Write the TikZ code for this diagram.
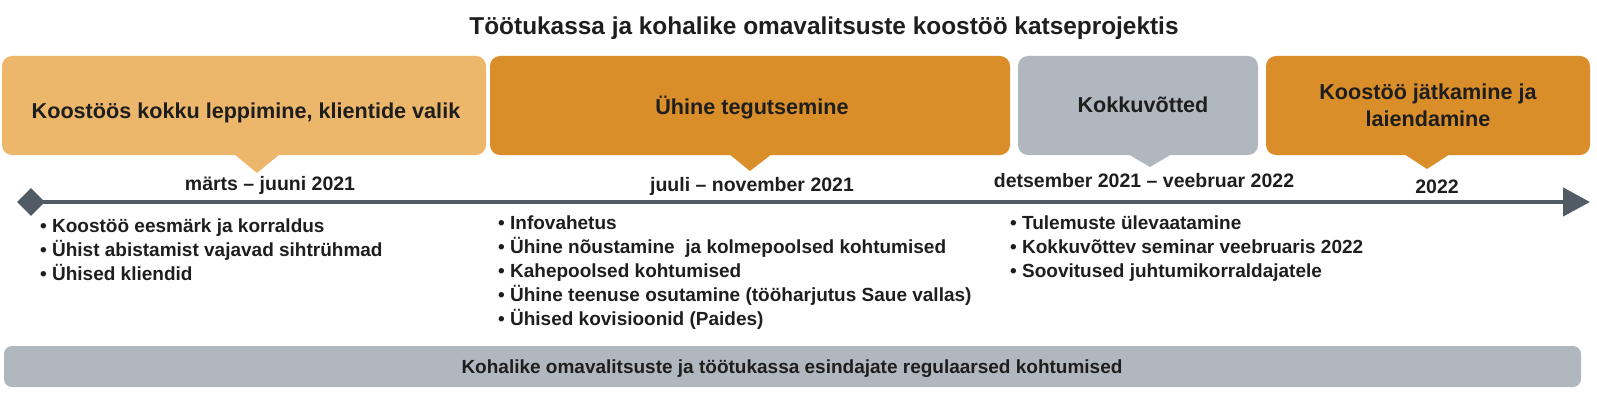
\documentclass[tikz,border=0pt]{standalone}
\usepackage{fontspec}
\setmainfont{Liberation Sans}
\usetikzlibrary{shapes.geometric,arrows.meta}
\definecolor{lorange}{RGB}{236,183,107}
\definecolor{dorange}{RGB}{218,142,42}
\definecolor{greyb}{RGB}{176,183,190}
\definecolor{lineC}{RGB}{80,91,102}
\definecolor{txt}{RGB}{30,30,30}
\tikzset{
 box/.style={rounded corners=10pt, inner sep=0pt, draw=none},
 maintitle/.style={font=\fontsize{24.4}{29}\selectfont\bfseries, text=txt, inner sep=0pt, anchor=base},
 ttl/.style={font=\fontsize{21.6}{27}\selectfont\bfseries, text=txt, inner sep=0pt, anchor=base},
 datelbl/.style={font=\fontsize{19.5}{24}\selectfont\bfseries, text=txt, inner sep=0pt, anchor=base},
 bul/.style={font=\fontsize{19}{24}\selectfont\bfseries, text=txt, inner sep=0pt, anchor=base west},
 bartxt/.style={font=\fontsize{19}{24}\selectfont\bfseries, text=txt, inner sep=0pt, anchor=base},
}
\begin{document}
\begin{tikzpicture}[x=1pt,y=-1pt]
\useasboundingbox (0,0) rectangle (1597,417);

% title
\node[maintitle] (title) at (824,35) {Töötukassa ja kohalike omavalitsuste koostöö katseprojektis};

% boxes
\node[box, fill=lorange, minimum width=484pt, minimum height=99pt] (b1) at (244,105.5) {};
\node[box, fill=dorange, minimum width=520pt, minimum height=99pt] (b2) at (750,105.5) {};
\node[box, fill=greyb, minimum width=240pt, minimum height=99pt] (b3) at (1138,105.5) {};
\node[box, fill=dorange, minimum width=324pt, minimum height=99pt] (b4) at (1428,105.5) {};

% pointers
\fill[lorange] (234,154) -- (257,173) -- (280,154) -- cycle;
\fill[dorange] (729,154) -- (750,171) -- (772,154) -- cycle;
\fill[greyb] (1128,154) -- (1150,167) -- (1172,154) -- cycle;
\fill[dorange] (1404,154) -- (1427,169) -- (1450,154) -- cycle;

% box titles
\node[ttl] (t1) at (246,118) {Koostöös kokku leppimine, klientide valik};
\node[ttl] (t2) at (752,114) {Ühine tegutsemine};
\node[ttl] (t3) at (1143,113) {Kokkuvõtted};
\node[ttl] (t4a) at (1428,100) {Koostöö jätkamine ja};
\node[ttl] (t4b) at (1428,127) {laiendamine};

% dates
\node[datelbl] (d1) at (270,190) {märts – juuni 2021};
\node[datelbl] (d2) at (752,191) {juuli – november 2021};
\node[datelbl] (d3) at (1144,187) {detsember 2021 – veebruar 2022};
\node[datelbl] (d4) at (1437,193) {2022};

% timeline
\node[diamond, fill=lineC, minimum size=28pt, inner sep=0pt] (dia) at (31,202) {};
\coordinate (tend) at (1590,202);
\draw[lineC, line width=4.5pt, -{Triangle[length=27pt,width=28pt]}] (dia.center) -- (tend);

% bullets column 1
\node[bul] (l11) at (40,232) {\textbullet\ Koostöö eesmärk ja korraldus};
\node[bul] (l12) at (40,256) {\textbullet\ Ühist abistamist vajavad sihtrühmad};
\node[bul] (l13) at (40,280) {\textbullet\ Ühised kliendid};

% bullets column 2
\node[bul] (l21) at (498,229) {\textbullet\ Infovahetus};
\node[bul] (l22) at (498,253) {\textbullet\ Ühine nõustamine \ ja kolmepoolsed kohtumised};
\node[bul] (l23) at (498,277) {\textbullet\ Kahepoolsed kohtumised};
\node[bul] (l24) at (498,301) {\textbullet\ Ühine teenuse osutamine (tööharjutus Saue vallas)};
\node[bul] (l25) at (498,325) {\textbullet\ Ühised kovisioonid (Paides)};

% bullets column 3
\node[bul] (l31) at (1010,229) {\textbullet\ Tulemuste ülevaatamine};
\node[bul] (l32) at (1010,253) {\textbullet\ Kokkuvõttev seminar veebruaris 2022};
\node[bul] (l33) at (1010,277) {\textbullet\ Soovitused juhtumikorraldajatele};

% bottom bar
\node[box, rounded corners=8pt, fill=greyb, minimum width=1577pt, minimum height=41pt] (bar) at (792.5,366.5) {};
\node[bartxt] (bart) at (792,373) {Kohalike omavalitsuste ja töötukassa esindajate regulaarsed kohtumised};
\end{tikzpicture}
\end{document}
